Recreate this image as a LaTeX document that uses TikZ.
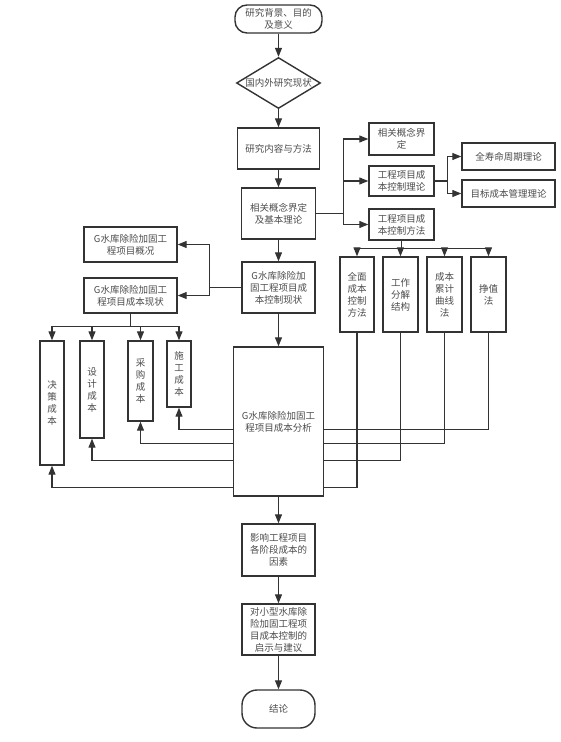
\documentclass[tikz,border=0pt]{standalone}
\usepackage{fontspec}
\setmainfont{Noto Sans CJK SC}
\usetikzlibrary{shapes.geometric,arrows.meta,backgrounds}

\begin{document}
\begin{tikzpicture}[
      x=1pt, y=-1pt,   % one unit = one pixel of the page, y runs down
      every node/.style={
        text=black!70,
        inner sep=0pt,
        align=center,
        font=\fontsize{9.5}{12}\selectfont
      },
      box/.style={draw=black!80, line width=1.4pt, fill=white, rectangle},
      term/.style={box, rounded corners=12pt},
      dec/.style={box, diamond},
      sz/.style 2 args={minimum width=#1pt, minimum height=#2pt},
      arr/.style={draw=black!80, line width=1.1pt, -{Triangle[length=9pt,width=7pt]}}
      ]
      \useasboundingbox (0,0) rectangle (560,742);

      % main column
      \node[term, sz={87}{28}] (bg) at (278.5,19) {研究背景、目的\\及意义};
      \node[dec, sz={84}{51}, label={center:国内外研究现状}] (scan) at (278.5,83) {};
      \node[box, sz={82}{41}] (cont) at (278.5,148.5) {研究内容与方法};
      \node[box, sz={74}{51}] (basis) at (278.5,213.5) {相关概念界定\\及基本理论};
      \node[box, sz={73}{51}] (now) at (278.5,287.5) {G水库除险加\\固工程项目成\\本控制现状};
      \node[box, sz={90}{149}] (ana) at (278.5,421.5) {G水库除险加固工\\程项目成本分析};
      \node[box, sz={73}{52}] (fact) at (278.5,550) {影响工程项目\\各阶段成本的\\因素};
      \node[box, sz={73}{51}] (tip) at (278.5,629.5) {对小型水库除\\险加固工程项\\目成本控制的\\启示与建议};
      \node[term, rounded corners=15pt, sz={73}{38}] (concl) at (278.5,709) {结论};

      % theory side
      \node[box, sz={65}{32}] (def) at (401.5,139) {相关概念界\\定};
      \node[box, sz={65}{30}] (ctheo) at (401.5,181) {工程项目成\\本控制理论};
      \node[box, sz={65}{31}] (cmeth) at (401.5,224.5) {工程项目成\\本控制方法};
      \node[box, sz={93}{27}] (life) at (508.5,156.5) {全寿命周期理论};
      \node[box, sz={93}{27}] (target) at (508.5,193.5) {目标成本管理理论};

      \node[box, sz={34}{75}] (m1) at (357,294.5) {全面\\成本\\控制\\方法};
      \node[box, sz={35}{75}] (m2) at (400.5,294.5) {工作\\分解\\结构};
      \node[box, sz={35}{75}] (m3) at (444.5,294.5) {成本\\累计\\曲线\\法};
      \node[box, sz={35}{75}] (m4) at (488.5,294.5) {挣值\\法};

      % project side
      \node[box, sz={93}{35}] (ovw) at (130.5,244.5) {G水库除险加固工\\程项目概况};
      \node[box, sz={93}{35}] (cnow) at (130.5,295.5) {G水库除险加固工\\程项目成本现状};

      \node[box, sz={24}{124}] (c1) at (52,403) {决\\策\\成\\本};
      \node[box, sz={24}{97}] (c2) at (92,389.5) {设\\计\\成\\本};
      \node[box, sz={25}{80}] (c3) at (140.5,381) {采\\购\\成\\本};
      \node[box, sz={24}{66}] (c4) at (179,374) {施\\工\\成\\本};

      \draw[arr] (bg) -- (scan);
      \draw[arr] (scan) -- (cont);
      \draw[arr] (cont) -- (basis);
      \draw[arr] (basis) -- (now);
      \draw[arr] (now) -- (ana);
      \draw[arr] (ana) -- (fact);
      \draw[arr] (fact) -- (tip);
      \draw[arr] (tip) -- (concl);

      \draw[arr] (basis.east) -- ++(27,0) |- (def.west);
      \draw[arr] (basis.east) -- ++(27,0) |- (ctheo.west);
      \draw[arr] (basis.east) -- ++(27,0) |- (cmeth.west);
      \draw[arr] (ctheo.east) -- ++(13,0) |- (life.west);
      \draw[arr] (ctheo.east) -- ++(13,0) |- (target.west);
      \foreach \m in {m1,m2,m3,m4}
        \draw[arr] (cmeth.south) -- ++(0,8) -| (\m.north);

      \draw[arr] (now.west) -- ++(-32,0) |- (ovw.east);
      \draw[arr] (now.west) -- ++(-32,0) |- (cnow.east);
      \foreach \c in {c1,c2,c3,c4}
        \draw[arr] (cnow.south) -- ++(0,13) -| (\c.north);

      % method -> cost lines run behind the analysis box
      \begin{scope}[on background layer]
        \fill[white] (0,0) rectangle (560,742);
        \foreach \m/\c/\d in {m4/c4/97, m3/c3/111, m2/c2/128, m1/c1/155}
          \draw[arr] (\m.south) -- ++(0,\d) -| (\c.south);
      \end{scope}
    \end{tikzpicture}
\end{document}
